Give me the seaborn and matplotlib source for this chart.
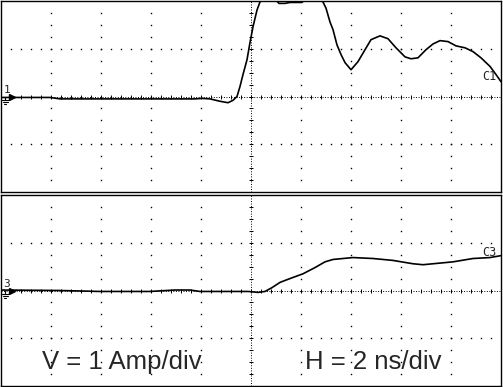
import numpy as np
import matplotlib
matplotlib.use("Agg")
import matplotlib.pyplot as plt
import seaborn as sns

# time axis in ns (2 ns/div, 10 div), current in A (1 A/div, 4 div per trace)
c1_t = [-10.0, -8.04, -7.64, -4.04, -2.24, -1.96, -1.64, -1.24, -0.92, -0.72,
        -0.56, -0.44, -0.32, -0.16, -0.04, 0.08, 0.24, 0.36, 0.52, 0.92,
        1.12, 1.36, 1.56, 2.04, 2.20, 2.68, 2.88, 3.00, 3.16, 3.28,
        3.44, 3.60, 3.76, 4.00, 4.28, 4.56, 4.80, 5.16, 5.48, 5.80,
        6.16, 6.40, 6.68, 7.00, 7.28, 7.56, 7.88, 8.20, 8.56, 8.88,
        9.20, 9.56, 9.80, 10.0]
c1_amp = [-0.02, -0.02, -0.05, -0.05, -0.05, -0.04, -0.05, -0.10, -0.13, -0.08,
          0.00, 0.21, 0.46, 0.77, 1.13, 1.46, 1.81, 1.98, 2.06, 2.06,
          1.95, 1.95, 1.97, 1.97, 2.06, 2.06, 1.98, 1.85, 1.56, 1.40,
          1.08, 0.88, 0.71, 0.56, 0.73, 0.98, 1.19, 1.27, 1.21, 1.02,
          0.83, 0.79, 0.81, 0.98, 1.10, 1.17, 1.15, 1.06, 1.02, 0.94,
          0.81, 0.63, 0.46, 0.31]

c3_t = [-10.0, -7.64, -6.04, -4.04, -3.04, -2.44, -2.04, -0.12, 0.28, 0.56,
        0.84, 1.16, 1.56, 2.08, 2.56, 2.96, 3.28, 4.08, 4.88, 5.68,
        6.48, 6.88, 7.28, 8.08, 8.88, 9.56, 10.0]
c3_amp = [0.01, 0.00, -0.02, -0.02, 0.01, 0.01, -0.02, -0.02, -0.04, -0.02,
          0.06, 0.17, 0.25, 0.35, 0.48, 0.60, 0.65, 0.69, 0.67, 0.63,
          0.56, 0.54, 0.56, 0.60, 0.67, 0.69, 0.73]

channels = ["1", "3"]
trace_labels = ["C1", "C3"]
v_text = "V = 1 Amp/div"
h_text = "H = 2 ns/div"

sns.set_style("white")
plt.rcParams["font.family"] = ["Liberation Sans", "DejaVu Sans"]

W, H = 503, 387
fig = plt.figure(figsize=(W / 100, H / 100), dpi=100)
fig.patch.set_facecolor("white")


def px_axes(x0, y0, w, h):
    return fig.add_axes([x0 / W, 1 - (y0 + h) / H, w / W, h / H])


def graticule(ax):
    xmaj = np.arange(-8, 9, 2)
    ymaj = [-1, 1]
    # dots along the vertical division lines
    for x in xmaj:
        if x == 0:
            continue
        ys = np.arange(-1.75, 2.0, 0.25)
        ax.plot(np.full_like(ys, x), ys, ls="none", marker="s", ms=1.0,
                mew=0, color="black")
    # dots along the horizontal division lines
    for y in ymaj:
        xs = np.arange(-9.6, 10.0, 0.4)
        ax.plot(xs, np.full_like(xs, y), ls="none", marker="s", ms=1.0,
                mew=0, color="black")
    # centre axes, finely dotted with ticks
    ax.axhline(0, color="black", lw=0.7, ls=(0, (1, 1.6)))
    ax.axvline(0, color="black", lw=0.7, ls=(0, (1, 1.6)))
    xs = np.arange(-9.6, 10.0, 0.4)
    ax.plot(xs, np.zeros_like(xs), ls="none", marker="|", ms=2.5, mew=0.7,
            color="black")
    ys = np.arange(-1.75, 2.0, 0.25)
    ax.plot(np.zeros_like(ys), ys, ls="none", marker="_", ms=2.5, mew=0.7,
            color="black")


def channel_marker(ax, num):
    ax.text(0.005, 0.51, num, transform=ax.transAxes, fontsize=8,
            family="DejaVu Sans Mono", ha="left", va="bottom")
    ax.plot([0.022], [0], transform=ax.get_yaxis_transform(), marker=">",
            ms=4, color="black", clip_on=False)
    gx = -9.83
    ax.plot([gx, gx], [0.0, -0.07], color="black", lw=0.8)
    for k, half in enumerate([0.14, 0.09, 0.04]):
        yy = -0.07 - 0.045 * k
        ax.plot([gx - half, gx + half], [yy, yy], color="black", lw=0.8)


axes = [px_axes(1, 1, 500, 191), px_axes(1, 195, 500, 191)]
series = [(c1_t, c1_amp), (c3_t, c3_amp)]
label_y = [0.604, 0.698]

for ax, (t, a), num, lab, ly in zip(axes, series, channels, trace_labels, label_y):
    ax.set_xlim(-10, 10)
    ax.set_ylim(-2, 2)
    ax.set_xticks([])
    ax.set_yticks([])
    ax.set_facecolor("white")
    for s in ax.spines.values():
        s.set_color("black")
        s.set_linewidth(1.0)
    graticule(ax)
    sns.lineplot(x=t, y=a, ax=ax, color="black", lw=1.2, estimator=None,
                 sort=False)
    channel_marker(ax, num)
    ax.text(0.976, ly, lab, transform=ax.transAxes, fontsize=8.5,
            family="DejaVu Sans Mono", ha="center", va="center")

axes[1].text(0.082, 0.0885, v_text, transform=axes[1].transAxes, fontsize=18.5,
             ha="left", va="baseline")
axes[1].text(0.608, 0.0885, h_text, transform=axes[1].transAxes, fontsize=18.5,
             ha="left", va="baseline")

fig.savefig("out.png", dpi=100, facecolor="white")
